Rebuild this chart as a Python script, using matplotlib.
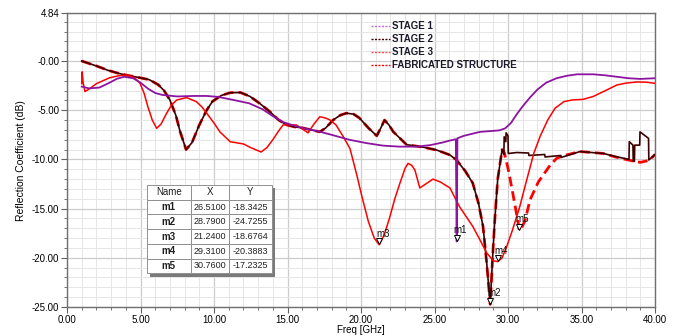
import matplotlib
matplotlib.use("Agg")
import matplotlib.pyplot as plt
import matplotlib.transforms as mtransforms
from matplotlib.lines import Line2D
from matplotlib.patches import Rectangle
from matplotlib.ticker import FixedLocator, FixedFormatter, MultipleLocator

FONT = ["Liberation Sans", "DejaVu Sans"]
NARROW = ["Liberation Sans Narrow", "Liberation Sans", "DejaVu Sans"]

C_STAGE1 = "#8C14A0"
C_STAGE2 = "#3C0000"
C_STAGE3 = "#FF0000"
C_FAB    = "#FF0000"

###############################################################################
# data (freq in GHz, reflection coefficient in dB)

stage1_f = [1.0, 1.5, 2.2, 2.9, 3.4, 3.9, 4.5, 5.0, 5.5, 6.0, 6.5, 7.5, 8.6, 9.5,
            10.3, 11.3, 12.4, 13.3, 14.0, 14.7, 15.5, 16.3, 17.0, 18.0, 19.2,
            20.4, 21.5, 22.6, 23.8, 24.7, 25.5, 26.0, 26.45, 26.51, 26.56, 27.0,
            28.1, 29.4, 29.8, 30.2, 30.6, 31.0, 31.5, 32.0, 32.6, 33.3, 34.0,
            34.7, 35.8, 36.6, 37.4, 38.2, 39.0, 40.0]
stage1_db = [-2.6, -2.78, -2.7, -2.2, -1.8, -1.6, -1.75, -2.2, -2.8, -3.25, -3.45,
             -3.6, -3.55, -3.55, -3.65, -3.95, -4.3, -4.9, -5.6, -6.2, -6.6, -6.9,
             -7.1, -7.5, -8.0, -8.35, -8.6, -8.7, -8.7, -8.55, -8.3, -8.1, -7.95,
             -18.34, -7.85, -7.6, -7.2, -7.05, -6.85, -6.3, -5.4, -4.6, -3.7, -2.9,
             -2.2, -1.75, -1.5, -1.35, -1.35, -1.45, -1.6, -1.75, -1.82, -1.75]

stage2_f = [1.0, 1.5, 2.0, 2.8, 3.5, 4.1, 4.8, 5.6, 6.2, 6.6, 7.0, 7.4, 7.7, 8.1,
            8.5, 9.0, 9.5, 9.9, 10.5, 11.1, 11.8, 12.45, 13.1, 13.8, 14.4, 14.95,
            15.5, 16.05, 16.6, 17.2, 17.6, 18.1, 18.6, 19.0, 19.5, 19.9, 20.5,
            21.07, 21.35, 21.6, 21.9, 22.2, 23.1, 24.2, 25.15, 26.05, 26.5, 27.1,
            27.6, 28.0, 28.3, 28.55, 28.79, 28.95, 29.1, 29.3, 29.6,
            29.72, 29.74, 29.85, 29.87, 30.0, 30.02, 30.6, 31.4, 31.42, 32.5,
            32.52, 33.6, 33.62, 34.9, 36.5, 37.3, 38.23, 38.25, 38.5, 38.52,
            38.6, 38.62, 38.96, 38.98, 39.56, 39.58, 40.0]
stage2_db = [0.0, -0.25, -0.5, -0.95, -1.25, -1.45, -1.65, -1.9, -2.4, -3.0, -3.96,
             -5.5, -7.2, -9.0, -8.3, -6.5, -5.0, -4.1, -3.5, -3.22, -3.2, -3.6,
             -4.3, -5.15, -6.0, -6.5, -6.7, -6.8, -7.0, -7.2, -6.8, -6.0, -5.5,
             -5.3, -5.4, -5.8, -6.8, -7.6, -6.8, -6.0, -6.5, -7.2, -8.5, -8.75,
             -9.05, -9.55, -10.06, -11.2, -12.4, -14.5, -16.8, -20.5, -24.73,
             -20.0, -16.2, -12.0, -9.0,
             -9.5, -7.7, -8.2, -7.3, -7.6, -9.4, -9.3, -9.35, -9.6, -9.5,
             -9.75, -9.6, -9.8, -9.2, -9.4, -9.7, -10.0, -8.2, -8.55, -10.2,
             -10.2, -8.55, -8.55, -7.2, -7.86, -10.06, -9.5]

# fabricated structure follows stage 2 up to 29.6 GHz, then its own tail
fab_split = stage2_f.index(29.6) + 1
fab_tail_f = [29.75, 30.03, 30.37, 30.7, 30.76, 30.95, 31.16, 31.5, 32.06, 32.86,
              33.3, 33.7, 34.9, 36.5, 37.3, 38.3, 39.0, 39.6, 40.0]
fab_tail_db = [-9.3, -11.1, -13.8, -16.5, -17.23, -16.9, -16.2, -14.1, -12.3,
               -10.6, -9.9, -9.65, -9.2, -9.4, -9.75, -10.1, -10.3, -10.1, -9.5]
fab_f = stage2_f[:fab_split] + fab_tail_f
fab_db = stage2_db[:fab_split] + fab_tail_db

stage3_f = [1.0, 1.03, 1.1, 1.22, 1.5, 2.0, 2.9, 3.5, 4.06, 4.6, 4.97, 5.25, 5.5,
            5.8, 6.1, 6.4, 6.78, 7.1, 7.46, 8.14, 8.8, 9.2, 9.5, 10.0, 10.4,
            11.1, 12.0, 12.5, 13.2, 13.6, 14.0, 14.4, 14.7, 15.6, 16.0, 16.4,
            16.8, 17.2, 17.6, 17.9, 18.3, 18.8, 19.25, 19.7, 20.1, 20.5, 20.9,
            21.24, 21.6, 21.97, 22.3, 22.65, 23.0, 23.2, 23.45, 23.67, 24.0,
            24.4, 24.9, 25.4, 26.05, 26.7, 27.6, 28.1, 28.55, 29.0, 29.31, 29.6,
            29.9, 30.3, 30.8, 31.2, 31.75, 32.2, 32.7, 33.2, 33.8, 34.4, 35.1,
            35.8, 36.5, 37.4, 38.0, 38.75, 39.4, 40.0]
stage3_db = [-2.3, -1.1, -2.2, -3.1, -2.85, -2.3, -1.7, -1.5, -1.42, -1.7, -2.27,
             -3.3, -4.64, -6.0, -6.84, -6.4, -5.3, -4.5, -3.96, -3.72, -4.13,
             -4.7, -5.3, -6.3, -7.2, -8.2, -8.43, -8.8, -9.25, -8.8, -8.0, -7.1,
             -6.5, -6.5, -6.9, -7.3, -6.4, -5.66, -5.8, -6.0, -6.5, -7.7, -8.9,
             -11.5, -14.0, -16.3, -18.0, -18.68, -17.6, -15.8, -14.0, -12.4,
             -10.9, -10.4, -10.6, -11.1, -12.9, -12.5, -12.0, -12.3, -12.9,
             -14.8, -16.8, -18.2, -19.5, -20.3, -20.39, -20.0, -18.9, -17.2,
             -14.8, -12.5, -9.4, -7.6, -6.0, -4.8, -4.13, -3.95, -3.9, -3.6,
             -3.1, -2.44, -2.25, -2.13, -2.15, -2.27]

series_names = ["STAGE 1", "STAGE 2", "STAGE 3", "FABRICATED STRUCTURE"]

marker_names = ["m1", "m2", "m3", "m4", "m5"]
marker_f = [26.51, 28.79, 21.24, 29.31, 30.76]
marker_db = [-18.3425, -24.7255, -18.6764, -20.3883, -17.2325]

y_ticks = [4.84, 0, -5, -10, -15, -20, -25]
y_labels = ["4.84", "-0.00", "-5.00", "-10.00", "-15.00", "-20.00", "-25.00"]
x_ticks = [0, 5, 10, 15, 20, 25, 30, 35, 40]

###############################################################################

fig = plt.figure(figsize=(6.82, 3.36), dpi=100)
ax = fig.add_axes([67 / 682, 1 - 307 / 336, 588 / 682, 293.6 / 336])

ax.plot(fab_f, fab_db, color=C_FAB, lw=2.0, dashes=(3.5, 1.8), zorder=2)
ax.plot(stage2_f, stage2_db, color=C_STAGE2, lw=1.2, zorder=3)
ax.plot(stage3_f, stage3_db, color=C_STAGE3, lw=1.1, zorder=4)
ax.plot(stage1_f, stage1_db, color=C_STAGE1, lw=1.3, zorder=5)

ax.set_xlim(0, 40)
ax.set_ylim(-25, 4.84)

ax.xaxis.set_major_locator(FixedLocator(x_ticks))
ax.xaxis.set_major_formatter(FixedFormatter([f"{v:.2f}" for v in x_ticks]))
ax.xaxis.set_minor_locator(MultipleLocator(1))
ax.yaxis.set_major_locator(FixedLocator(y_ticks))
ax.yaxis.set_major_formatter(FixedFormatter(y_labels))
ax.yaxis.set_minor_locator(MultipleLocator(1))

ax.grid(which="minor", color="#E6E6E6", lw=0.7, zorder=0)
ax.grid(which="major", color="#CCCCCC", lw=0.9, zorder=0)
ax.set_axisbelow(True)

ax.tick_params(which="both", direction="out", color="#606060", labelsize=7,
               pad=1.5)
ax.tick_params(which="major", length=4)
ax.tick_params(which="minor", length=2.5)
for lab in ax.get_xticklabels() + ax.get_yticklabels():
    lab.set_family(FONT)
for sp in ax.spines.values():
    sp.set_color("#707070")
    sp.set_linewidth(1.0)

ax.set_xlabel("Freq [GHz]", fontsize=7, family=FONT, labelpad=0)
ax.set_ylabel("Reflection Coefficient (dB)", fontsize=7.5, family=FONT,
              labelpad=4)

# legend with short dotted samples like the original
leg_colors = ["#C070D0", C_STAGE2, "#FF5050", C_FAB]
handles = [Line2D([], [], color=c, lw=1.0, ls=(0, (1.5, 1))) for c in leg_colors]
leg = ax.legend(handles, series_names, loc="upper left",
                bbox_to_anchor=(371 / 682, 1 - 21 / 336),
                bbox_transform=fig.transFigure, frameon=False,
                handlelength=2.0, handletextpad=0.15, labelspacing=0.32,
                borderpad=0, borderaxespad=0,
                prop={"family": NARROW, "weight": "bold", "size": 7})
for t in leg.get_texts():
    t.set_color("#1A1A2A")

# marker triangles and labels
tri_tr = mtransforms.offset_copy(ax.transData, fig=fig, x=0, y=3.5, units="dots")
ax.plot(marker_f, marker_db, ls="none", marker="v", ms=5, mfc="white",
        mec="black", mew=0.7, transform=tri_tr, zorder=8)
for name, f, v in zip(marker_names, marker_f, marker_db):
    ax.annotate(name, (f, v), xytext=(2.5, 8), textcoords="offset points",
                ha="center", va="center", fontsize=7, family=FONT,
                color="#101010", zorder=8)

# marker table with drop shadow
cell_text = [[n, f"{f:.4f}", f"{v:.4f}"] for n, f, v in zip(marker_names, marker_f, marker_db)]
tb_x, tb_y, tb_w, tb_h = 0.1355, 0.1148, 0.2126, 0.3007
shadow = Rectangle((tb_x + 0.006, tb_y - 0.011), tb_w, tb_h, transform=ax.transAxes,
                   facecolor="#7A7A7A", edgecolor="none", zorder=9)
ax.add_patch(shadow)
tbl = ax.table(cellText=cell_text, colLabels=["Name", "X", "Y"],
               colWidths=[0.355, 0.306, 0.339], cellLoc="center",
               bbox=[tb_x, tb_y, tb_w, tb_h], zorder=10)
tbl.auto_set_font_size(False)
for (r, c), cell in tbl.get_celld().items():
    cell.set_edgecolor("#909090")
    cell.set_linewidth(0.7)
    cell.set_facecolor("white")
    txt = cell.get_text()
    txt.set_fontsize(7 if (r == 0 or c == 0) else 6.5)
    txt.set_family(FONT)
    txt.set_color("#202020")
    if r > 0 and c == 0:
        txt.set_weight("bold")

fig.savefig("out.png", dpi=100)
